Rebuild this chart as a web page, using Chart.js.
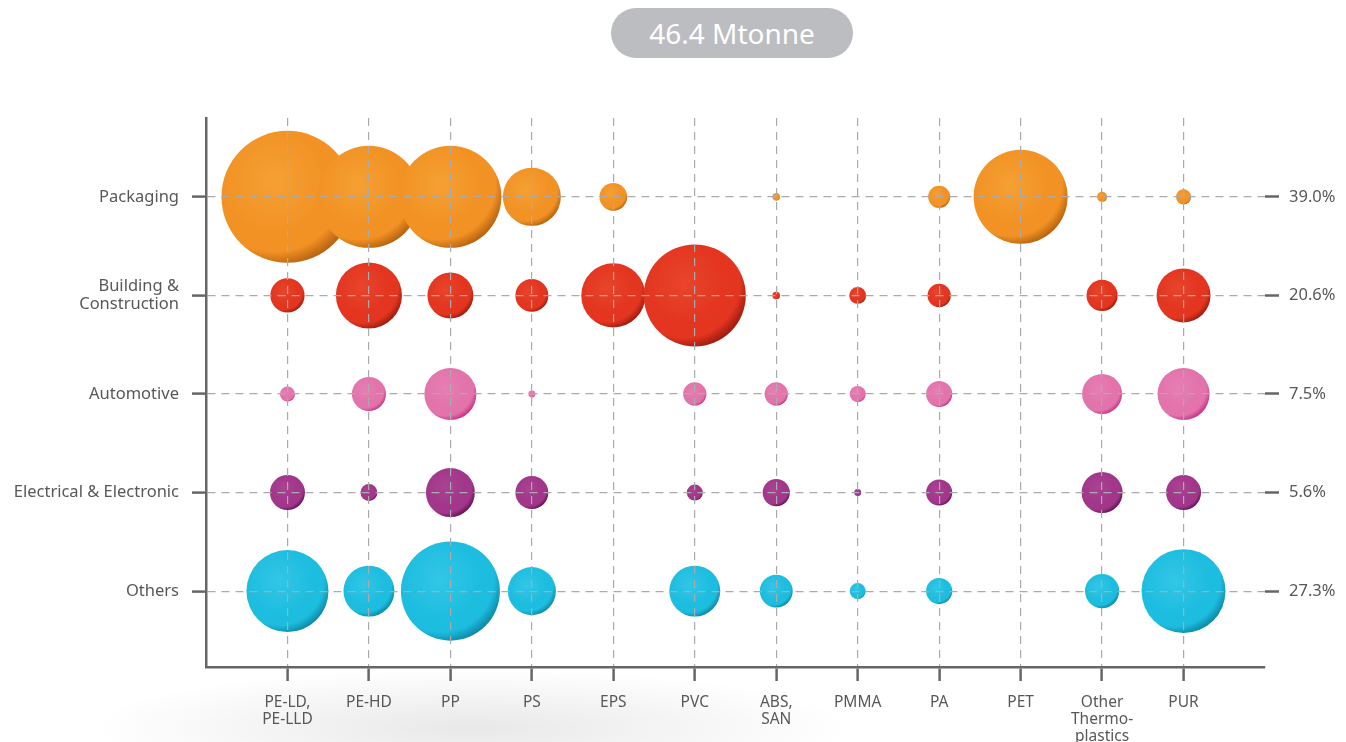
<!DOCTYPE html>
<html>
<head>
<meta charset="utf-8">
<title>Plastics demand by segment and resin type</title>
<script src="https://cdn.jsdelivr.net/npm/chart.js@4/dist/chart.umd.min.js"></script>
<style>
    html, body {
        margin: 0;
        padding: 0;
        width: 1346px;
        height: 742px;
        overflow: hidden;
        background: #fff;
    }
    body {
        position: relative;
        background:
            radial-gradient(ellipse 380px 60px at 470px 728px, rgba(0, 0, 0, 0.09), rgba(0, 0, 0, 0) 100%),
            #fff;
    }
    #total {
        position: absolute;
        left: 611px;
        top: 8px;
        width: 242px;
        height: 50px;
        border-radius: 25px;
        background: #bcbdc0;
        color: #fff;
        font-family: 'Noto Sans', sans-serif;
        font-size: 28px;
        line-height: 50px;
        text-align: center;
    }
    #chart-box {
        position: absolute;
        left: 0;
        top: 0;
        width: 1346px;
        height: 742px;
    }
</style>
</head>
<body>
<div id="total">46.4 Mtonne</div>
<div id="chart-box"><canvas id="bubbles"></canvas></div>
<script>
// Polymers along the bottom, sectors down the side (top to bottom)
const polymers = [
    ['PE-LD,', 'PE-LLD'], 'PE-HD', 'PP', 'PS', 'EPS', 'PVC',
    ['ABS,', 'SAN'], 'PMMA', 'PA', 'PET', ['Other', 'Thermo-', 'plastics'], 'PUR'
];
const sectors = ['Packaging', ['Building &', 'Construction'], 'Automotive', 'Electrical & Electronic', 'Others'];
const sectorShares = ['39.0%', '20.6%', '7.5%', '5.6%', '27.3%'];

// Estimated demand in Mtonne, one value per polymer (0 = no bubble)
const packaging    = [6.11, 3.65, 3.65, 1.18, 0.27, 0,    0.02, 0,     0.17, 3.10, 0.035, 0.08];
const building     = [0.41, 1.53, 0.74, 0.38, 1.44, 3.65, 0.02, 0.10,  0.19, 0,    0.34,  1.02];
const automotive   = [0.08, 0.41, 0.95, 0.017, 0,   0.19, 0.19, 0.09,  0.24, 0,    0.56,  0.95];
const electrical   = [0.43, 0.10, 0.84, 0.38, 0,    0.09, 0.26, 0.017, 0.24, 0,    0.59,  0.43];
const others       = [2.36, 0.91, 3.44, 0.81, 0,    0.91, 0.38, 0.09,  0.24, 0,    0.41,  2.47];

const sectorValues = [packaging, building, automotive, electrical, others];

// colour per sector: highlight, base, shade
const sectorColors = [
    ['#f5a034', '#f29224', '#b4600e'],
    ['#e8452c', '#e3351f', '#9a1a0e'],
    ['#e67fb3', '#e273ab', '#c92d84'],
    ['#aa4393', '#a1368a', '#621052'],
    ['#33c6e6', '#1dbde0', '#0c86a2']
];

const PX_PER_SQRT_MT = 26.7;
const TEXT = '#58585a';
const AXIS = '#666668';
const FONT = 'Noto Sans';

// sphere-ish fill: light towards top-left, shaded on the lower right rim
function bubbleFill(context) {
    const colors = sectorColors[context.datasetIndex];
    const raw = context.raw;
    const chart = context.chart;
    if (!raw || !chart.scales.x || !chart.chartArea) return colors[1];
    const r = Math.max(raw.r, 1);
    const cx = chart.scales.x.getPixelForValue(raw.x) - r * 0.2;
    const cy = chart.scales.y.getPixelForValue(raw.y) - r * 0.25;
    const g = chart.ctx.createRadialGradient(cx, cy, 0, cx, cy, r * 1.32);
    g.addColorStop(0, colors[0]);
    g.addColorStop(0.6, colors[1]);
    g.addColorStop(0.82, colors[1]);
    g.addColorStop(1, colors[2]);
    return g;
}

const datasets = sectorValues.map((values, s) => ({
    label: Array.isArray(sectors[s]) ? sectors[s].join(' ') : sectors[s],
    data: values
        .map((v, p) => ({ x: p, y: s, r: PX_PER_SQRT_MT * Math.sqrt(v) }))
        .filter(d => d.r > 0),
    backgroundColor: bubbleFill,
    borderWidth: 0,
    hoverBorderWidth: 0
}));

const onlyRange = (from, to) => scale => {
    scale.ticks = [];
    for (let v = from; v <= to; v++) scale.ticks.push({ value: v });
};

new Chart(document.getElementById('bubbles'), {
    type: 'bubble',
    data: { datasets },
    options: {
        responsive: true,
        maintainAspectRatio: false,
        animation: false,
        layout: { padding: { top: 118, left: 0, right: 0, bottom: 0 } },
        plugins: {
            legend: { display: false },
            tooltip: { enabled: false }
        },
        scales: {
            x: {
                type: 'linear',
                position: 'bottom',
                min: -1,
                max: 12,
                afterBuildTicks: onlyRange(0, polymers.length - 1),
                afterFit: scale => { scale.height = 75; },
                ticks: {
                    autoSkip: false,
                    maxRotation: 0,
                    padding: 13,
                    color: TEXT,
                    font: { family: FONT, size: 15.5, lineHeight: 1.1 },
                    callback: value => polymers[value]
                },
                grid: {
                    z: 1,
                    color: '#ababad',
                    lineWidth: 1.2,
                    tickLength: 14,
                    tickColor: AXIS,
                    tickWidth: 2.5
                },
                border: { z: 2, color: AXIS, width: 2.5, dash: [8, 6] }
            },
            y: {
                type: 'linear',
                position: 'left',
                reverse: true,
                min: -0.8,
                max: 4.77,
                afterBuildTicks: onlyRange(0, sectors.length - 1),
                afterFit: scale => { scale.width = 206; },
                ticks: {
                    padding: 13,
                    color: TEXT,
                    font: { family: FONT, size: 16.5, lineHeight: 1.05 },
                    callback: value => sectors[value]
                },
                grid: {
                    z: 1,
                    color: '#ababad',
                    lineWidth: 1.2,
                    tickLength: 14,
                    tickColor: AXIS,
                    tickWidth: 2.5
                },
                border: { z: 2, color: AXIS, width: 2.5, dash: [8, 6] }
            },
            y2: {
                type: 'linear',
                position: 'right',
                reverse: true,
                min: -0.8,
                max: 4.77,
                afterBuildTicks: onlyRange(0, sectorShares.length - 1),
                afterFit: scale => { scale.width = 81; },
                ticks: {
                    padding: 10,
                    color: TEXT,
                    font: { family: FONT, size: 16.5 },
                    callback: value => sectorShares[value]
                },
                grid: {
                    drawOnChartArea: false,
                    tickLength: 14,
                    tickColor: AXIS,
                    tickWidth: 2.5
                },
                border: { display: false }
            }
        }
    }
});
</script>
</body>
</html>
